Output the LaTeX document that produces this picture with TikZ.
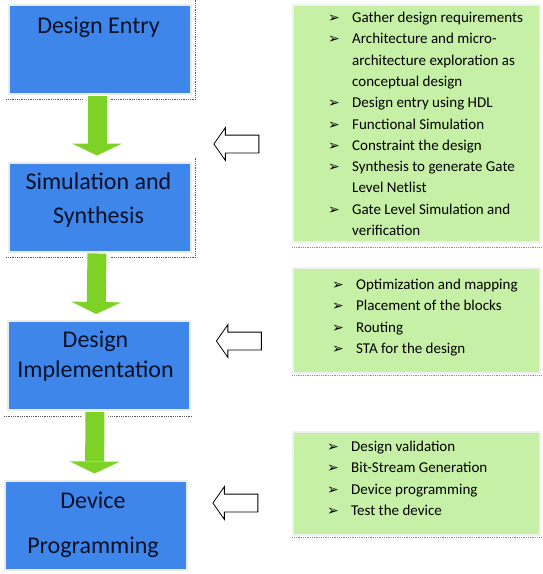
\documentclass[tikz,border=0pt]{standalone}
\usepackage{fontspec}
\setmainfont{Carlito}
\newfontfamily\bulletfont{DejaVu Sans}
\usetikzlibrary{arrows.meta,shapes.arrows}
\definecolor{stageblue}{RGB}{62,134,234}
\definecolor{notegreen}{RGB}{198,240,166}
\definecolor{flowgreen}{RGB}{125,210,37}
\definecolor{titleink}{RGB}{8,16,40}
\tikzset{
  stage/.style={rectangle, draw=black!8, line width=2pt, fill=stageblue,
    minimum width=182pt, minimum height=89pt, inner sep=0pt},
  stagetitle/.style={font=\fontsize{24}{34}\selectfont, text=titleink,
    align=center, inner sep=0pt},
  note/.style={rectangle, draw=black!6, line width=1.5pt, fill=notegreen,
    minimum width=247pt, inner sep=0pt},
  notetext/.style={font=\fontsize{15}{21.3}\selectfont, text=black,
    inner sep=0pt, anchor=base west},
  flow/.style={draw=flowgreen, line width=19pt,
    -{Triangle[width=50pt,length=12pt,line width=0pt]},
    preaction={draw=white, line width=27pt},
    shorten <=1pt, shorten >=6pt},
  pointer/.style={single arrow, draw=black, line width=0.8pt, fill=white,
    shape border rotate=180, inner xsep=0pt, inner ysep=8.5pt,
    minimum height=45pt, single arrow head extend=7.5pt,
    single arrow tip angle=110},
  shadowline/.style={densely dotted, draw=black!65, line width=0.8pt}
}
\newcommand{\bul}{\makebox[24pt][l]{\bulletfont\fontsize{14}{14}\selectfont ➢}}

\begin{document}
\begin{tikzpicture}[x=1pt,y=-1pt]
\useasboundingbox (0,0) rectangle (543,574);

% the four stages
\node[stage] (entry)  at (100,49)    {};
\node[stage] (sim)    at (100,207)   {};
\node[stage] (impl)   at (99,365.5)  {};
\node[stage] (device) at (95.5,525)  {};

\draw[shadowline] ([xshift=3pt,yshift=4pt]entry.north east) |- ([xshift=-2pt,yshift=-5pt]entry.south west);
\draw[shadowline] ([xshift=3pt,yshift=4pt]sim.north east) |- ([xshift=-2pt,yshift=-5pt]sim.south west);
\draw[shadowline] ([xshift=1pt,yshift=-5pt]impl.south east) -- ([xshift=-4pt,yshift=-5pt]impl.south west);

\node[stagetitle, anchor=base] (entrytitle) at (98.5,33) {Design Entry};
\node[stagetitle, anchor=north] (simtitle) at (98.5,173) {Simulation and\\Synthesis};
\node[stagetitle, anchor=north, font=\fontsize{24}{30}\selectfont] (impltitle)
  at (95.5,331) {Design\\Implementation};
\node[stagetitle, anchor=north, font=\fontsize{24}{45}\selectfont] (devicetitle)
  at (93,492) {Device\\Programming};

% flow between stages
\draw[flow] ([xshift=-3pt]entry.south) -- ([xshift=-3pt]sim.north);
\draw[flow] ([xshift=-3pt]sim.south) -- ([xshift=-3pt]impl.north);
\draw[flow] ([xshift=-4pt]impl.south) -- ([xshift=-1pt]device.north);

% task lists
\node[note, minimum height=237pt] (reqbox)  at (416.5,123.5) {};
\node[note, minimum height=105pt] (pnrbox)  at (416.5,320.5) {};
\node[note, minimum height=103pt] (progbox) at (416.5,483.5) {};

\draw[shadowline, draw=black!45] ([yshift=-5pt]reqbox.south west) -- ([yshift=-5pt]reqbox.south east);
\draw[shadowline, draw=black!45] ([yshift=-2pt]pnrbox.south west) -- ([yshift=-2pt]pnrbox.south east);
\draw[shadowline, draw=black!45] ([yshift=-2pt]progbox.south west) -- ([yshift=-2pt]progbox.south east);

\node[notetext] (reqlist) at (328,22.5) {\begin{tabular}[t]{@{}l@{}l@{}}
  \bul & Gather design requirements\\
  \bul & Architecture and micro-\\
       & architecture exploration as\\
       & conceptual design\\
  \bul & Design entry using HDL\\
  \bul & Functional Simulation\\
  \bul & Constraint the design\\
  \bul & Synthesis to generate Gate\\
       & Level Netlist\\
  \bul & Gate Level Simulation and\\
       & verification
\end{tabular}};
\node[notetext] (pnrlist) at (332,289.5) {\begin{tabular}[t]{@{}l@{}l@{}}
  \bul & Optimization and mapping\\
  \bul & Placement of the blocks\\
  \bul & Routing\\
  \bul & STA for the design
\end{tabular}};
\node[notetext] (proglist) at (327,451.5) {\begin{tabular}[t]{@{}l@{}l@{}}
  \bul & Design validation\\
  \bul & Bit-Stream Generation\\
  \bul & Device programming\\
  \bul & Test the device
\end{tabular}};

% hollow pointers
\node[pointer] (reqarrow)  at (239.5,144) {};
\node[pointer] (pnrarrow)  at (242,341)   {};
\node[pointer] (progarrow) at (238.5,503) {};
\end{tikzpicture}
\end{document}
